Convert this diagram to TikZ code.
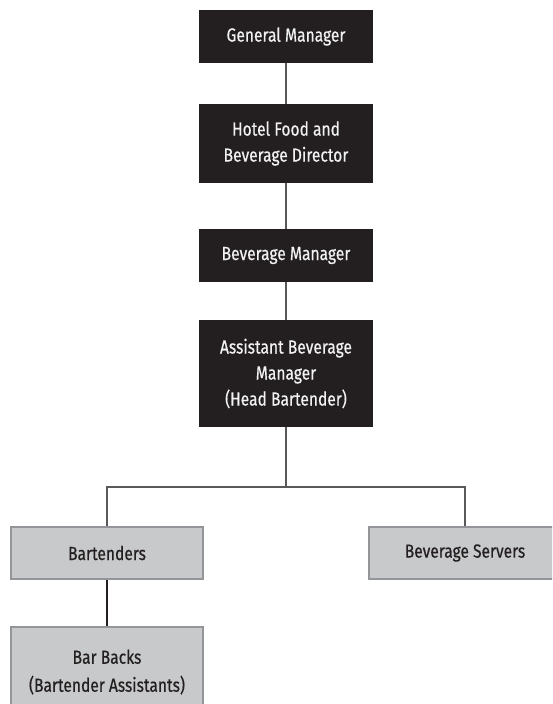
\documentclass[tikz,border=0pt]{standalone}
\usepackage{fontspec}
\setmainfont{Fira Sans}[FakeStretch=0.82, FakeBold=0.5]
\definecolor{boxdark}{HTML}{231F20}
\definecolor{boxtext}{HTML}{F2F2F2}
\definecolor{boxgray}{HTML}{C8C9CB}
\definecolor{boxgrayline}{HTML}{939598}
\definecolor{conn}{HTML}{58595B}
\tikzset{
  darkbox/.style={fill=boxdark, draw=none, text=boxtext, minimum width=174pt, align=center, inner sep=0pt, font=\fontsize{19}{26}\selectfont},
  graybox/.style={fill=boxgray, draw=boxgrayline, line width=1.6pt, text=boxdark, minimum width=192pt, align=center, inner sep=0pt, font=\fontsize{19}{28}\selectfont},
  linkline/.style={draw=conn, line width=1.8pt},
  droplink/.style={draw=boxdark, line width=1.3pt}
}
\begin{document}
\begin{tikzpicture}[x=1pt,y=-1pt]
\useasboundingbox (0,0) rectangle (552,704);
\clip (0,0) rectangle (552,704);
\node[darkbox, minimum height=53pt] (gm) at (286,36.5) {General Manager};
\node[darkbox, minimum height=79pt] (fbd) at (286,143.5) {Hotel Food and\\Beverage Director};
\node[darkbox, minimum height=53pt] (bm) at (286,255.5) {Beverage Manager};
\node[darkbox, minimum height=107pt] (abm) at (286,373.5) {Assistant Beverage\\Manager\\(Head Bartender)};
\coordinate (j) at (286,487);
\node[graybox, minimum height=52pt] (bar) at (107,553) {Bartenders};
\node[graybox, minimum height=52pt] (bs) at (465,553) {Beverage Servers};
\node[graybox, minimum height=90pt] (bb) at (107,672) {Bar Backs\\(Bartender Assistants)};
\draw[linkline] (gm) -- (fbd);
\draw[linkline] (fbd) -- (bm);
\draw[linkline] (bm) -- (abm);
\draw[linkline] (abm) -- (j);
\draw[linkline] (j) -- (bar.north |- j) -- (bar.north);
\draw[linkline] (j) -- (bs.north |- j) -- (bs.north);
\draw[droplink] (bar) -- (bb);
\end{tikzpicture}
\end{document}
